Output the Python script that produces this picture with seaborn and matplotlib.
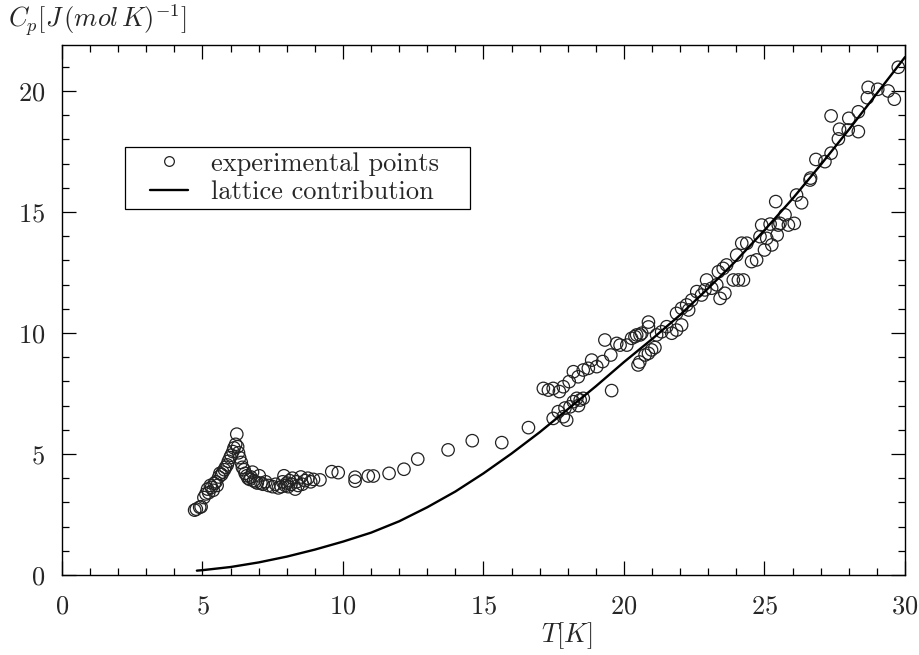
import numpy as np
import pandas as pd
import matplotlib
matplotlib.use("Agg")
import matplotlib.pyplot as plt
from matplotlib.lines import Line2D
from matplotlib.patches import Rectangle
import seaborn as sns

# ---- data ----
exp_T = [4.72, 4.78, 4.90, 4.95, 5.05, 5.12, 5.18, 5.22, 5.28, 5.32, 5.38, 5.42, 5.48, 5.52,
         5.58, 5.62, 5.68, 5.72, 5.78, 5.82, 5.88, 5.92, 5.98, 6.02, 6.08, 6.12, 6.18, 6.22,
         6.25, 6.28, 6.32, 6.38, 6.42, 6.48, 6.52, 6.58, 6.62, 6.68, 6.72, 6.78, 6.82, 6.88,
         6.95, 7.02, 7.08, 7.15, 7.25, 7.35, 7.50, 7.60, 7.70, 7.80, 7.85, 7.90, 7.95, 8.00,
         8.05, 8.10, 8.15, 8.20, 8.30, 8.35, 8.40, 8.50, 8.55, 8.65, 8.75, 8.85, 8.95, 9.18,
         9.60, 9.83, 10.43, 10.43, 10.90, 11.08, 11.64, 12.17, 12.66, 13.74, 14.60, 15.65,
         16.60,
         17.13, 17.31, 17.48, 17.70, 17.84, 18.05, 18.20, 18.37, 18.55, 18.73, 18.85, 19.03,
         19.24, 19.32, 19.53, 19.74, 19.86, 20.10, 20.27, 20.45, 20.63,
         17.48, 17.66, 17.84, 17.96, 17.90, 18.08, 18.20, 18.32, 18.44, 18.55, 18.38, 19.56,
         20.50, 20.56, 20.75, 20.87, 20.98, 21.10, 21.16,
         20.39, 20.57, 20.87, 20.87, 21.34, 21.52, 21.70, 21.87, 22.05, 21.87, 22.05, 22.23,
         22.41, 22.30, 22.59, 22.76, 22.94, 22.88, 23.12, 23.30, 23.42, 23.59, 23.36, 23.53,
         23.65, 23.89, 24.07, 24.25, 24.01, 24.19, 24.37, 24.54, 24.72, 24.84, 24.90, 25.08,
         25.26, 25.00, 25.49, 25.20, 25.45,
         25.55, 25.85, 26.06, 25.73, 25.40, 26.14, 26.32, 26.62, 26.64, 26.83, 27.15, 27.37,
         27.37, 27.63, 27.67, 27.98, 28.00, 28.34, 28.34, 28.66, 28.69, 29.03, 29.40, 29.62,
         29.76]
exp_Cp = [2.68, 2.72, 2.80, 2.82, 3.20, 3.35, 3.55, 3.40, 3.70, 3.62, 3.50, 3.78, 3.85, 3.70,
          4.05, 4.20, 4.15, 4.25, 4.35, 4.45, 4.55, 4.70, 4.85, 4.95, 5.10, 5.25, 5.40, 5.82,
          5.30, 5.05, 4.85, 4.65, 4.45, 4.35, 4.20, 4.10, 4.00, 3.95, 4.05, 4.25, 3.90, 3.85,
          3.80, 4.10, 3.80, 3.75, 3.85, 3.70, 3.65, 3.75, 3.60, 3.65, 3.85, 4.10, 3.70, 3.80,
          3.65, 3.90, 3.75, 4.00, 3.55, 3.85, 3.70, 4.05, 3.75, 3.90, 4.00, 3.85, 3.95, 3.93,
          4.27, 4.23, 4.04, 3.88, 4.09, 4.09, 4.20, 4.37, 4.79, 5.17, 5.55, 5.47,
          6.09,
          7.71, 7.64, 7.71, 7.58, 7.78, 7.99, 8.40, 8.19, 8.47, 8.54, 8.88, 8.61,
          8.82, 9.71, 9.09, 9.57, 9.50, 9.50, 9.78, 9.92, 9.99,
          6.47, 6.75, 6.54, 6.40, 6.90, 6.95, 7.16, 7.30, 7.23, 7.30, 7.00, 7.62,
          8.68, 8.80, 9.09, 9.16, 9.30, 9.40, 9.92,
          9.85, 9.92, 10.45, 10.25, 10.05, 10.26, 9.99, 10.12, 10.33, 10.81, 11.02, 11.16,
          11.36, 10.95, 11.71, 11.57, 12.19, 11.78, 11.85, 11.99, 11.43, 11.64, 12.53, 12.67,
          12.81, 12.19, 12.19, 12.19, 13.22, 13.71, 13.71, 12.95, 13.02, 13.98, 14.46, 13.91,
          13.64, 13.43, 14.46, 14.50, 14.05,
          14.53, 14.46, 14.53, 14.88, 15.43, 15.70, 15.38, 16.32, 16.40, 17.17, 17.08, 17.43,
          18.97, 18.02, 18.42, 18.39, 18.87, 18.32, 19.14, 19.72, 20.15, 20.07, 20.00, 19.66,
          20.98]

lat_T = [4.8, 5, 6, 7, 8, 9, 10, 11, 12, 13, 14, 15, 16, 17, 18, 19, 20,
         21, 22, 23, 24, 25, 26, 27, 28, 29, 30]
lat_Cp = [0.18, 0.20, 0.33, 0.52, 0.76, 1.05, 1.38, 1.75, 2.22, 2.80, 3.45, 4.20, 5.02, 5.90,
          6.85, 7.80, 8.80, 9.75, 10.75, 11.85, 13.00, 14.25, 15.55, 16.95, 18.40, 19.90, 21.40]

x_ticks = [0, 5, 10, 15, 20, 25, 30]
y_ticks = [0, 5, 10, 15, 20]
legend_labels = ["experimental points", "lattice contribution"]

exp_df = pd.DataFrame({"T": exp_T, "Cp": exp_Cp})
lat_df = pd.DataFrame({"T": lat_T, "Cp": lat_Cp})

# ---- style ----
sns.set_style("ticks")
plt.rcParams["font.family"] = ["cmr10", "DejaVu Serif"]
plt.rcParams["mathtext.fontset"] = "cm"
plt.rcParams["axes.formatter.use_mathtext"] = True

fig = plt.figure(figsize=(9.2, 6.55), dpi=100)
ax = fig.add_axes([62 / 920, 80 / 655, 843 / 920, 530 / 655])

sns.lineplot(data=lat_df, x="T", y="Cp", ax=ax, color="black", linewidth=1.7,
             estimator=None, sort=True, legend=False)
sns.scatterplot(data=exp_df, x="T", y="Cp", ax=ax, marker="o", s=80,
                facecolor="none", edgecolor="#222222", linewidth=0.9, legend=False)

ax.set_xlim(0, 30)
ax.set_ylim(0, 21.9)
ax.set_xticks(x_ticks)
ax.set_yticks(y_ticks)
ax.set_xticks(np.arange(0, 31, 1), minor=True)
ax.set_yticks(np.arange(0, 22, 1), minor=True)
ax.tick_params(which="both", direction="in", top=True, right=True, labelsize=19,
               width=0.9, color="black")
ax.tick_params(which="major", length=10)
ax.tick_params(axis="x", which="major", pad=14)
ax.tick_params(axis="y", which="major", pad=12)
ax.tick_params(which="minor", length=5)
for sp in ax.spines.values():
    sp.set_color("black")
    sp.set_linewidth(1.0)

ax.set_xlabel("")
ax.set_ylabel("")
fig.text(567 / 920, 1 - 636 / 655, r"$T[K]$", ha="center", va="center", fontsize=19)
fig.text(8 / 920, 1 - 20 / 655, r"$C_p[J\,(mol\,K)^{-1}]$", ha="left", va="center", fontsize=19)

# legend frame (drawn separately to get the wide side padding of the original)
ax.add_patch(Rectangle((63 / 843, 366 / 530), 345 / 843, 62 / 530, transform=ax.transAxes,
                       facecolor="white", edgecolor="black", linewidth=0.9, zorder=4))
handles = [Line2D([], [], linestyle="none", marker="o", markersize=7,
                  markerfacecolor="none", markeredgecolor="#222222", markeredgewidth=0.9),
           Line2D([], [], color="black", linewidth=1.7)]
leg = ax.legend(handles, legend_labels,
                loc="center left", bbox_to_anchor=(88 / 843, 397 / 530), borderaxespad=0,
                fontsize=19, frameon=False, handlelength=1.45,
                labelspacing=0.18, borderpad=0.0, handletextpad=0.85)
leg.set_zorder(5)

fig.savefig("out.png", dpi=100)
